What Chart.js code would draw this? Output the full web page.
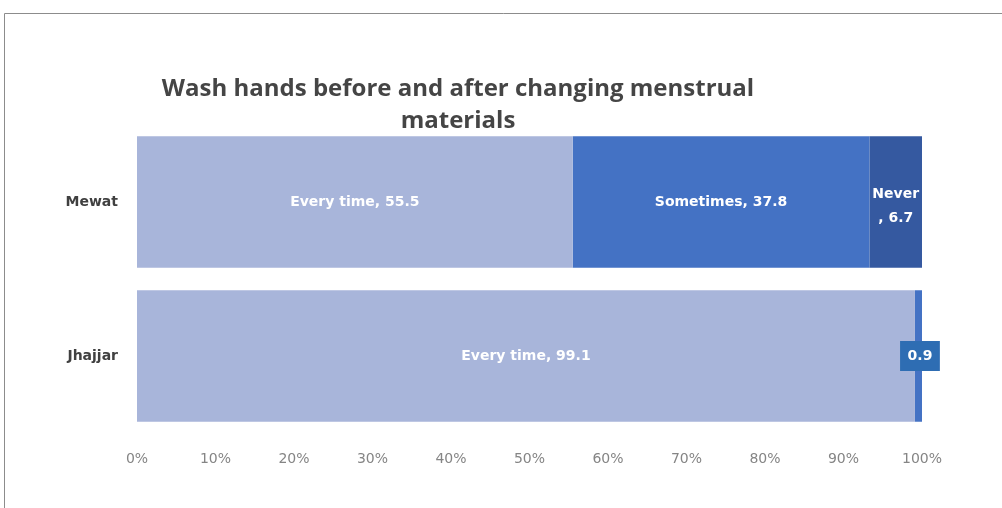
<!DOCTYPE html>
<html>
<head>
<meta charset="utf-8">
<script src="https://cdn.jsdelivr.net/npm/chart.js@4/dist/chart.umd.min.js"></script>
<style>
  html, body { margin: 0; background: #fff; }
</style>
</head>
<body>
<canvas id="canvas" width="1002" height="508"></canvas>
<script>
const regions = ["Mewat", "Jhajjar"];
const everyTime = [55.5, 99.1];
const sometimes = [37.8, 0.9];
const never = [6.7, 0];
const titleLines = ["Wash hands before and after changing menstrual", "materials"];

const labelFont = 'bold 14px "DejaVu Sans"';

// thin frame round the figure (top and left edge only)
const framePlugin = {
  id: "frame",
  beforeDraw(chart) {
    const ctx = chart.ctx;
    ctx.save();
    ctx.strokeStyle = "#8c8c8c";
    ctx.lineWidth = 1;
    ctx.beginPath();
    ctx.moveTo(4.5, chart.height);
    ctx.lineTo(4.5, 13.5);
    ctx.lineTo(chart.width, 13.5);
    ctx.stroke();
    ctx.restore();
  },
};

// two-line title, centred a little left of the plot
const titlePlugin = {
  id: "twoLineTitle",
  afterDraw(chart) {
    const ctx = chart.ctx;
    ctx.save();
    ctx.font = 'bold 24px "Open Sans"';
    ctx.fillStyle = "#454545";
    ctx.textAlign = "center";
    ctx.textBaseline = "alphabetic";
    ctx.fillText(titleLines[0], 458, 96);
    ctx.fillText(titleLines[1], 458, 128);
    ctx.restore();
  },
};

// "Series, value" labels inside each segment
const barLabels = {
  id: "barLabels",
  afterDatasetsDraw(chart) {
    const ctx = chart.ctx;
    ctx.save();
    ctx.font = labelFont;
    ctx.textAlign = "center";
    ctx.textBaseline = "middle";
    chart.data.datasets.forEach((ds, di) => {
      const meta = chart.getDatasetMeta(di);
      meta.data.forEach((bar, i) => {
        const v = ds.data[i];
        if (!v) return;
        const w = Math.abs(bar.x - bar.base);
        const x = (bar.x + bar.base) / 2;
        const y = bar.y;
        const text = ds.label + ", " + v;
        if (w < 20) {
          // too thin: value only, on a small box
          const s = String(v);
          const bw = ctx.measureText(s).width + 15;
          ctx.fillStyle = "#2e6db3";
          ctx.fillRect(x + 1.5 - bw / 2, y - 15, bw, 30);
          ctx.fillStyle = "#fff";
          ctx.fillText(s, x + 1.5, y);
        } else if (ctx.measureText(text).width > w - 4) {
          ctx.fillStyle = "#fff";
          ctx.fillText(ds.label, x, y - 8);
          ctx.fillText(", " + v, x, y + 16);
        } else {
          ctx.fillStyle = "#fff";
          ctx.fillText(text, x, y);
        }
      });
    });
    ctx.restore();
  },
};

new Chart(document.getElementById("canvas").getContext("2d"), {
  type: "bar",
  data: {
    labels: regions,
    datasets: [
      { label: "Every time", data: everyTime, backgroundColor: "#a8b5da" },
      { label: "Sometimes", data: sometimes, backgroundColor: "#4472c4" },
      { label: "Never", data: never, backgroundColor: "#3559a0" },
    ],
  },
  options: {
    indexAxis: "y",
    responsive: false,
    animation: false,
    layout: { padding: { top: 125, left: 0, right: 80, bottom: 35 } },
    datasets: { bar: { barPercentage: 0.855, categoryPercentage: 1, borderWidth: 0 } },
    plugins: {
      legend: { display: false },
      title: { display: false },
      tooltip: { enabled: false },
    },
    scales: {
      x: {
        stacked: true,
        min: 0,
        max: 100,
        grid: { display: false, drawTicks: false },
        border: { display: false },
        ticks: {
          stepSize: 10,
          padding: 18,
          color: "#858585",
          font: { family: "DejaVu Sans", size: 14 },
          callback: (v) => v + "%",
        },
        afterFit(scale) { scale.height = 40; },
      },
      y: {
        stacked: true,
        grid: { display: false, drawTicks: false },
        border: { display: false },
        ticks: {
          padding: 19,
          color: "#404040",
          font: { family: "DejaVu Sans", size: 14, weight: "bold" },
        },
        afterFit(scale) { scale.width = 137; },
      },
    },
  },
  plugins: [framePlugin, titlePlugin, barLabels],
});
</script>
</body>
</html>
